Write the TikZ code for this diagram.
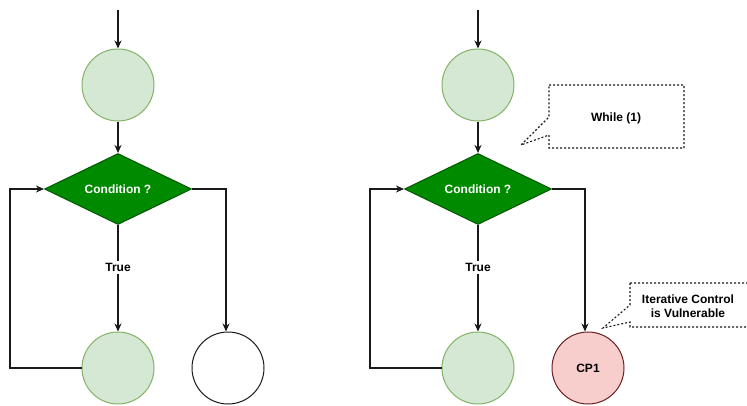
\documentclass[tikz,border=0pt]{standalone}
\usepackage{fontspec}
\setmainfont{Liberation Sans}
\usetikzlibrary{shapes.geometric,arrows.meta}
\definecolor{lgfill}{HTML}{D5E8D4}
\definecolor{lgdraw}{HTML}{82B366}
\definecolor{dgfill}{HTML}{008A00}
\definecolor{dgdraw}{HTML}{005700}
\definecolor{rfill}{HTML}{F8CECC}
\definecolor{rdraw}{HTML}{6B1F1F}
\definecolor{ln}{HTML}{1A1A1A}
\tikzset{
  font=\fontsize{12}{14}\selectfont\bfseries,
  circ/.style={circle,minimum size=72pt,inner sep=0pt,line width=1pt},
  gcirc/.style={circ,draw=lgdraw,fill=lgfill},
  wcirc/.style={circ,draw=ln},
  rcirc/.style={circ,draw=rdraw,fill=rfill},
  cond/.style={diamond,minimum width=147pt,minimum height=71pt,aspect=2.07,inner sep=0pt,fill=dgfill,draw=dgdraw,line width=1pt,text=white},
  arr/.style={draw=ln,line width=1.2pt,-{Stealth[length=8pt,width=7pt,inset=2.5pt]}},
  callout/.style={draw=ln,line width=1.1pt,dash pattern=on 2pt off 2pt},
  lbl/.style={fill=white,inner sep=2pt,text=black}
}
\begin{document}
\begin{tikzpicture}[x=1pt,y=-1pt]
\useasboundingbox (0,0) rectangle (747,405);
\clip (0,0) rectangle (747,405);
% ---------- left diagram ----------
\coordinate (s1) at (118,10);
\node[gcirc] (a1) at (118,85) {};
\node[cond] (d1) at (118,189) {\raisebox{-1pt}{Condition ?}};
\node[gcirc] (b1) at (118,368) {};
\node[wcirc] (e1) at (228,368) {};
\coordinate (l1) at (10,368);
\draw[arr] (s1) -- (a1.north);
\draw[arr] (a1.south) -- (d1.north);
\draw[arr] (d1.south) -- node[lbl,pos=0.40] (t1) {True} (b1.north);
\draw[arr] (b1.west) -- (l1) |- (d1.west);
\draw[arr] (d1.east) -| ([xshift=-2pt]e1.north);
% ---------- right diagram ----------
\coordinate (s2) at (478,10);
\node[gcirc] (a2) at (478,85) {};
\node[cond] (d2) at (478,189) {\raisebox{-1pt}{Condition ?}};
\node[gcirc] (b2) at (478,368) {};
\node[rcirc] (e2) at (588,368) {CP1};
\coordinate (l2) at (370,368);
\draw[arr] (s2) -- (a2.north);
\draw[arr] (a2.south) -- (d2.north);
\draw[arr] (d2.south) -- node[lbl,pos=0.40] (t2) {True} (b2.north);
\draw[arr] (b2.west) -- (l2) |- (d2.west);
\draw[arr] (d2.east) -| ([xshift=-3pt]e2.north);
% ---------- callouts ----------
\draw[callout] (549,85) -- (684,85) -- (684,148) -- (549,148) -- (549,135) -- (521,145) -- (549,117) -- cycle;
\node[text=black] (w1) at (616,118) {While (1)};
\draw[callout] (630,283) -- (770,283) -- (770,327) -- (630,327) -- (630,322) -- (603,328) -- (630,305) -- cycle;
\node[text=black,align=center] (iv) at (688,306) {Iterative Control\\is Vulnerable};
\end{tikzpicture}
\end{document}
